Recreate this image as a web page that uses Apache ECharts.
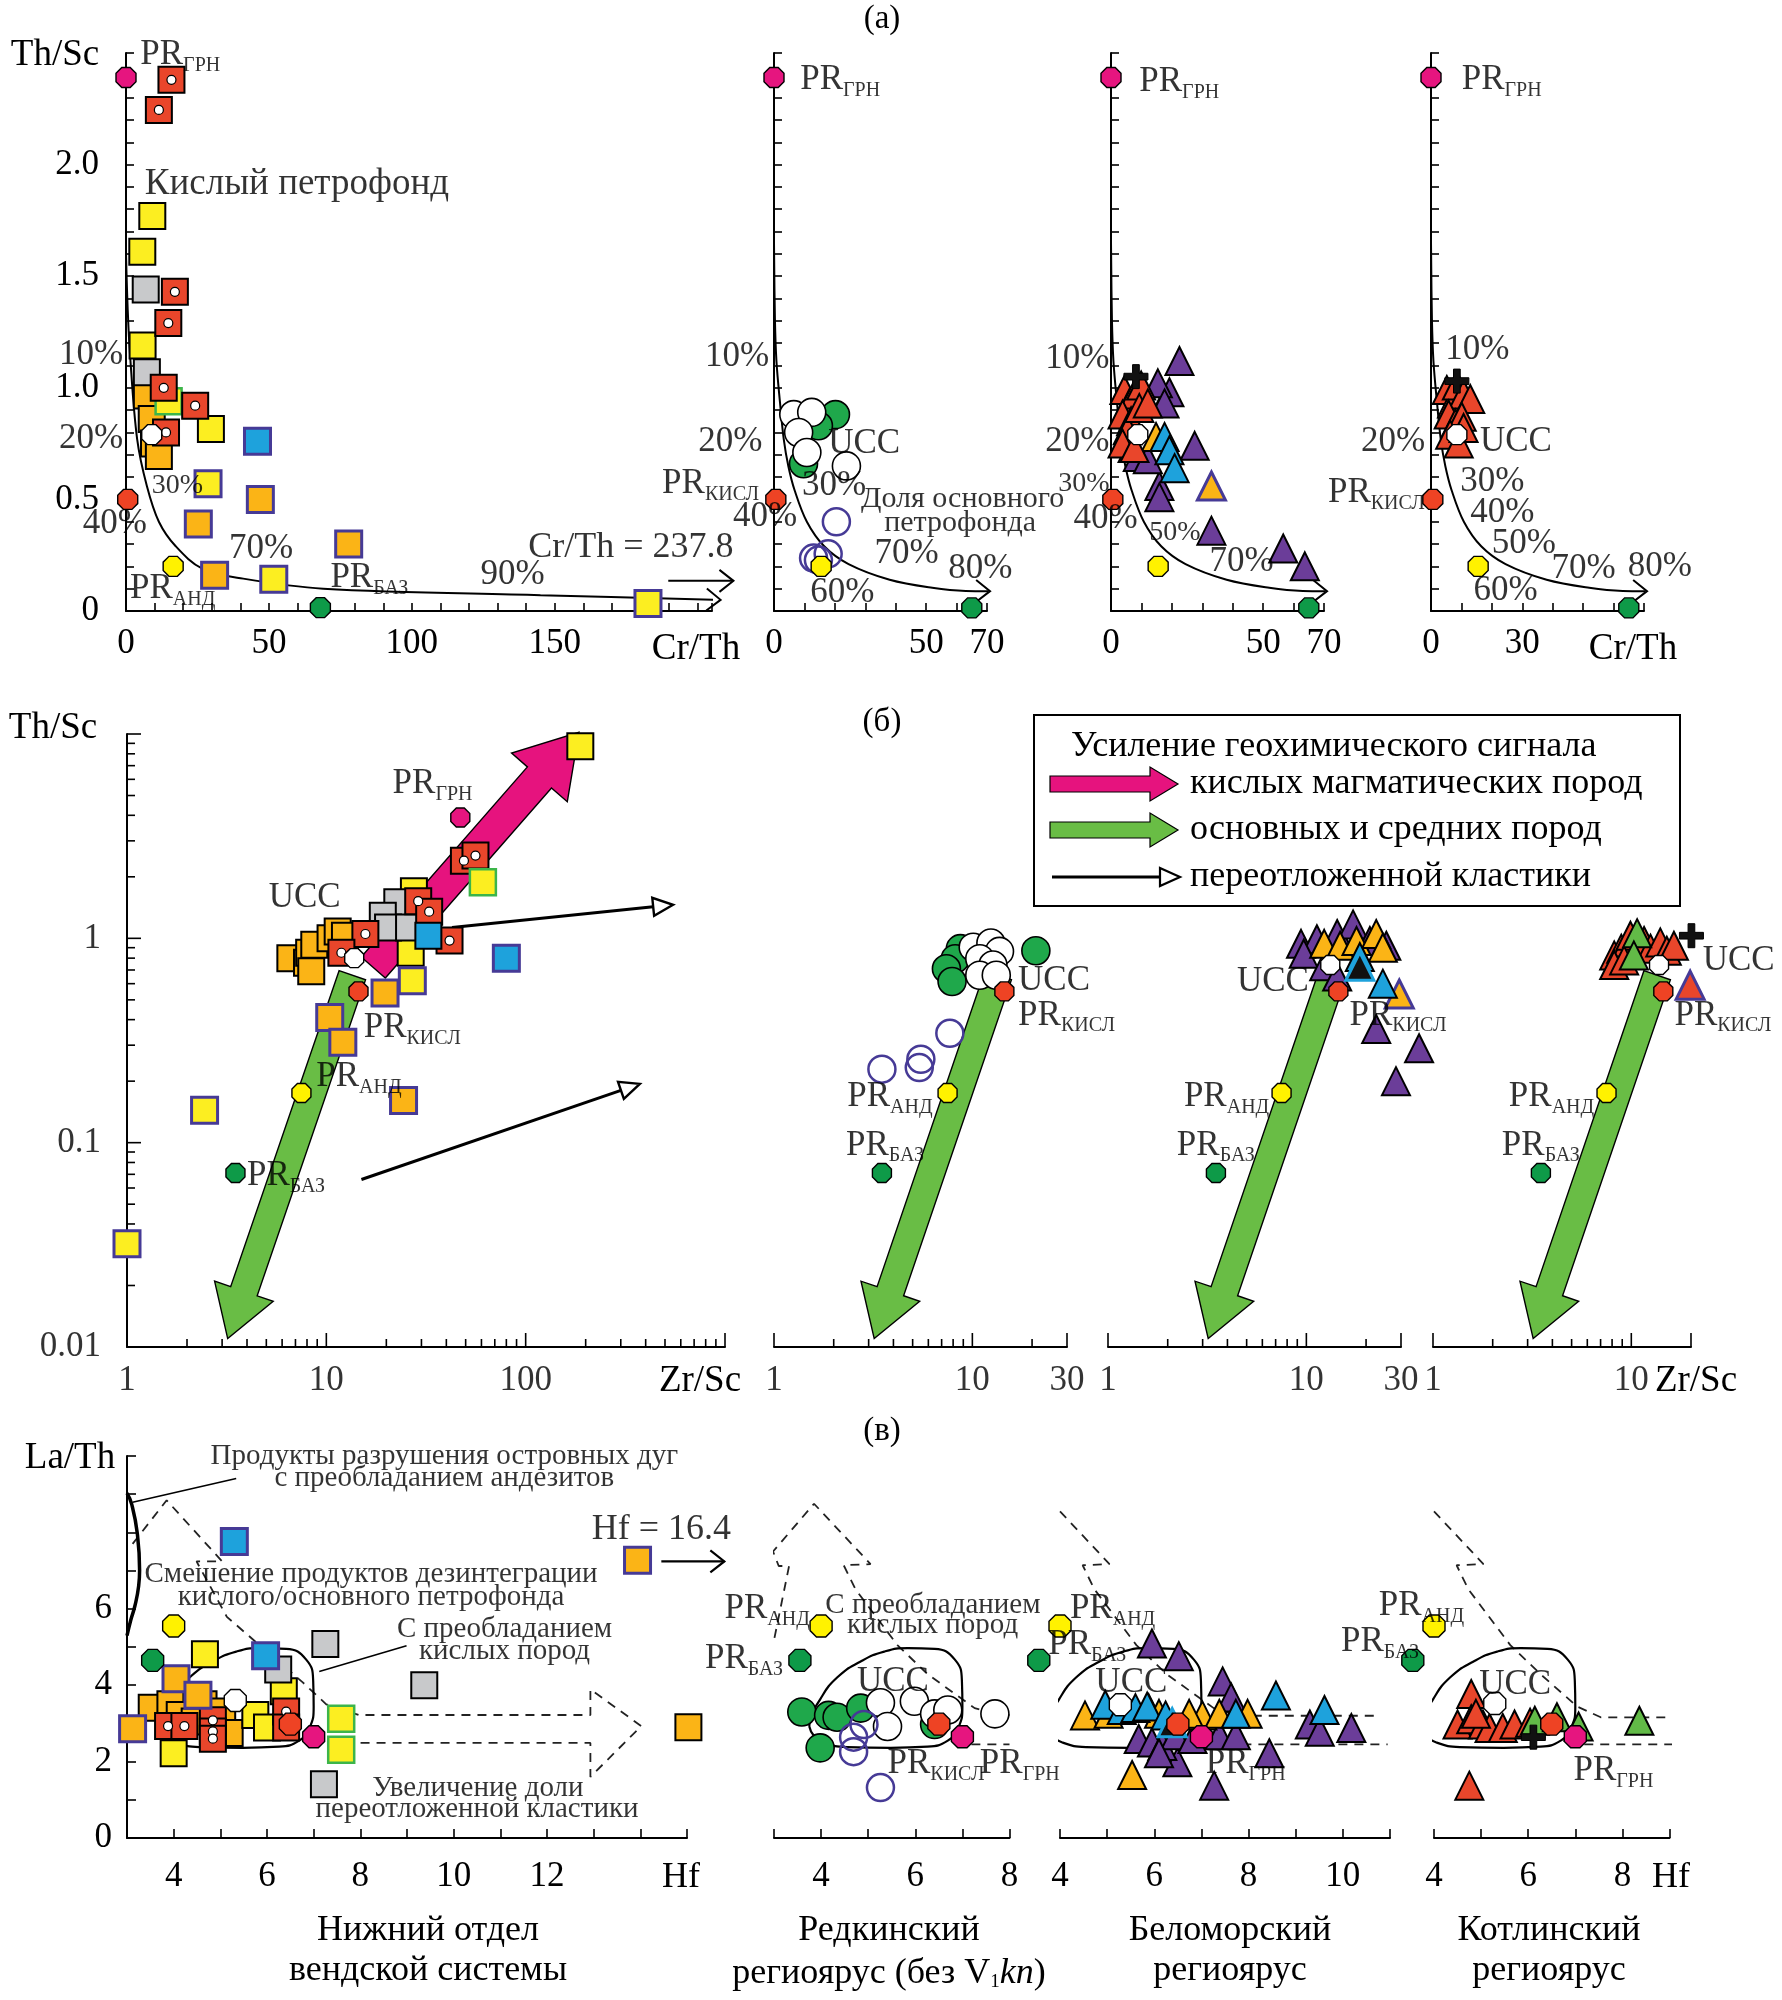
<!DOCTYPE html>
<html><head><meta charset="utf-8">
<script src="https://cdn.jsdelivr.net/npm/echarts@6/dist/echarts.min.js"></script>
<style>html,body{margin:0;padding:0;background:#fff}#c{width:1782px;height:2000px}</style>
</head><body><div id="c"></div>
<script>
const FONT = "'Liberation Serif','Times New Roman',serif";

// ================= DATA =================
// ---- Row (а): Cr/Th vs Th/Sc ----
const A_PR_GRN = [[0, 2.39]];
const A_PR_KISL = [[0.6, 0.5]];
const A_PR_AND = [[15.5, 0.2]];
const A_PR_BAZ = [[65, 0.014]];
const A1_PR_AND = [[16.5, 0.2]];
const A1_PR_BAZ = [[68, 0.015]];
const A1_UCC = [[9, 0.79]];
const A3_UCC = [[8.8, 0.79]];
const A4_UCC = [[8.5, 0.79]];
const A1_CURVE = [[0,1.6],[0.6,1.35],[1.4,1.15],[3.9,0.77],[7.3,0.56],[11.5,0.40],[17.4,0.29],[26.7,0.19],[41,0.145],[69,0.10],[145,0.071],[208,0.05]];
const A_CURVE = [[0,1.65],[0.3,1.31],[0.8,1.12],[2,0.93],[3.2,0.77],[4.7,0.65],[6.8,0.54],[10.8,0.40],[16.5,0.29],[24.5,0.21],[38,0.14],[52,0.104],[63,0.09],[71,0.089]];
const A1_RED = [[15.9,2.38],[11.5,2.245],[17.1,1.43],[14.8,1.29],[13.2,1.0],[24.2,0.92],[14,0.80]];
const A1_YELLOW = [[9.2,1.77],[5.7,1.61],[5.8,1.19],[29.7,0.815]];
const A1_YELLOW_P = [[28.7,0.57],[51.7,0.142],[182.6,0.034]];
const A1_YELLOW_G = [[14.9,0.94]];
const A1_GRAY = [[6.9,1.44],[7.3,1.07]];
const A1_ORANGE = [[7.3,0.966],[9,0.86],[9.8,0.75],[11.5,0.695]];
const A1_ORANGE_P = [[47,0.50],[25.3,0.39],[77.9,0.30],[31,0.16]];
const A1_BLUE_P = [[46,0.76]];
const A2_WHITE = [[6.5,0.88],[12.4,0.89],[8.1,0.80],[10.8,0.71],[23.8,0.65]];
const A2_GREEN = [[20.2,0.88],[14.6,0.83],[9.7,0.66]];
const A2_OPEN = [[20.5,0.40],[17.8,0.256],[14.6,0.228],[13,0.237]];
const A3_PURPLE = [[22.5,1.12],[19.2,0.98],[15.4,1.02],[17.6,0.93],[27.5,0.74],[15.9,0.56],[15.9,0.51],[33,0.36],[56.6,0.28],[63.7,0.20],[8.8,0.69],[12.1,0.68],[7.1,0.73]];
const A3_ORANGE = [[14.8,0.78]];
const A3_ORANGE_P = [[33,0.56]];
const A3_BLUE = [[17.6,0.78],[19.2,0.72],[20.9,0.64]];
const A3_RED = [[4.4,0.99],[6.0,0.93],[7.7,0.97],[9.9,1.01],[3.8,0.88],[6.6,0.85],[5.5,0.81],[9.3,0.91],[12.1,0.93],[3.8,0.75],[7.7,0.73]];
const A3_CROSS = [[8.2,1.05]];
const A4_RED = [[5.2,0.99],[6.9,0.93],[8.5,1.01],[10.7,0.97],[12.9,0.95],[5.8,0.88],[8,0.84],[10.1,0.87],[6.3,0.79],[9.1,0.75],[10.7,0.82]];
const A4_CROSS = [[8.5,1.03]];

// ---- Row (б): Zr/Sc vs Th/Sc (log) ----
const B1_PR_GRN = [[47, 3.9]];
const B_PR_KISL = [[14.5, 0.55]];
const B_PR_AND = [[7.5, 0.175]];
const B_PR_BAZ = [[3.5, 0.071]];
const B1_UCC = [[13.8, 0.80]];
const B1_YELLOW = [[188,8.7],[27.5,1.70],[26.5,0.85]];
const B1_YELLOW_P = [[27,0.62],[2.45,0.144],[1,0.032]];
const B1_YELLOW_G = [[61,1.88]];
const B1_GRAY = [[22.7,1.50],[19.2,1.29],[20.4,1.13],[26,1.13]];
const B1_RED = [[49,2.4],[56,2.54],[28.9,1.52],[32.8,1.35],[41.5,0.975],[15.7,1.05],[11.9,0.85]];
const B1_BLUE = [[32.5,1.03]];
const B1_BLUE_P = [[80,0.80]];
const B1_ORANGE = [[6.6,0.80],[8.0,0.76],[8.2,0.85],[8.7,0.93],[10.5,1.0],[11.4,1.08],[12.4,1.03],[8.4,0.69]];
const B1_ORANGE_P = [[19.7,0.54],[10.4,0.41],[12.1,0.31],[24.4,0.161]];
const B2_WHITE = [[10.1,0.905],[12.4,0.948],[13.7,0.863],[10.9,0.795],[12.7,0.74],[10.9,0.66],[13.2,0.66]];
const B2_GREEN = [[8.7,0.89],[8.2,0.795],[7.4,0.71],[7.9,0.615],[20.9,0.87]];
const B2_OPEN = [[7.7,0.343],[5.5,0.256],[5.4,0.233],[3.5,0.229]];
const B3_PURPLE = [[9.4,0.94],[11.3,0.99],[14.3,1.05],[17.2,1.17],[20.9,0.97],[25.3,0.92],[9.7,0.84],[12.3,0.73],[14.3,0.65],[22.5,0.36],[37,0.29],[28.3,0.20]];
const B3_ORANGE = [[12.3,0.94],[14.8,0.92],[17.9,0.97],[22.5,1.05],[24.3,0.90]];
const B3_ORANGE_P = [[29.4,0.534]];
const B3_BLUE = [[18.6,0.81],[24.3,0.60]];
const B3_BLACK = [[18.6,0.73]];
const B3_UCC = [[13.2,0.74]];
const B4_RED = [[8.2,0.825],[8.9,0.89],[9.6,0.955],[9.9,1.03],[11.6,0.97],[12.5,0.89],[14,0.955],[15.1,0.87],[16.4,0.92],[8.2,0.74],[9.2,0.78]];
const B4_GREEN = [[10.7,1.06],[10.3,0.825]];
const B4_CROSS = [[20.1,1.03]];
const B4_RED_P = [[19.8,0.59]];
const B4_UCC = [[13.8,0.74]];
const B_GREEN_ARROW = [13.5, 0.66, 3.2, 0.011];
const B1_PINK_ARROW = [17.2, 0.72, 185, 10.2];
const B1_THIN_ARROWS = [[42.7,1.13,549,1.46],[15,0.066,374,0.194]];

// ---- Row (в): Hf vs La/Th ----
const C_PR_AND = [[4.0, 5.55]];
const C_PR_BAZ = [[3.55, 4.65]];
const C_PR_GRN = [[7.0, 2.65]];
const C_PR_KISL = [[6.5, 2.98]];
const C1_UCC = [[5.32, 3.6]];
const C3_UCC = [[5.28, 3.49]];
const C4_UCC = [[5.29, 3.52]];
const C1_BLUE_P = [[5.30,7.76],[5.97,4.77]];
const C1_GRAY = [[7.25,5.08],[6.24,4.41],[9.37,4.0],[7.22,1.41]];
const C1_YELLOW = [[4.67,4.81],[6.36,3.84],[5.75,3.22],[6.0,2.89],[4.0,2.22]];
const C1_ORANGE_P = [[4.05,4.17],[4.52,3.74],[3.12,2.86],[13.94,7.27]];
const C1_ORANGE = [[3.53,3.41],[3.93,3.5],[4.64,3.5],[5.04,3.31],[4.13,3.22],[4.45,3.05],[5.2,2.75],[15.03,2.90]];
const C1_YELLOW_G = [[7.59,3.12],[7.59,2.31]];
const C1_RED = [[3.88,2.93],[4.23,2.93],[4.84,3.08],[4.84,2.79],[4.84,2.6],[6.41,3.31],[6.41,2.89]];
const C2_GREEN = [[3.59,3.30],[4.16,3.21],[4.34,3.16],[4.84,3.40],[3.98,2.36],[6.41,2.97]];
const C2_WHITE = [[5.26,3.54],[5.98,3.58],[5.41,2.92],[6.41,3.25],[6.69,3.35],[7.69,3.25]];
const C2_OPEN = [[4.91,2.97],[4.69,2.64],[4.69,2.26],[5.26,1.32]];
const C3_PURPLE = [[5.95,5.09],[6.52,4.76],[7.45,4.10],[7.63,3.68],[9.3,2.97],[9.51,2.78],[10.18,2.88],[8.44,2.22],[6.49,1.98],[7.27,1.37],[5.67,2.59],[5.95,2.5],[6.17,2.41],[6.45,2.69],[6.81,2.59],[7.38,2.69],[7.73,2.69],[6.1,2.22]];
const C3_ORANGE = [[4.53,3.21],[5.03,3.25],[5.88,3.4],[7.02,3.21],[7.38,3.25],[7.98,3.25],[5.53,1.65],[6.74,3.25],[6.1,3.25]];
const C3_BLUE = [[4.96,3.49],[5.31,3.35],[5.6,3.4],[5.85,3.44],[6.24,3.21],[7.73,3.25],[8.58,3.73],[9.61,3.35]];
const C3_BLACK = [[6.38,3.02]];
const C4_RED = [[4.79,3.77],[4.5,2.97],[4.79,3.11],[5.04,2.97],[5.18,2.88],[5.46,2.88],[5.71,2.97],[6.04,3.02],[4.75,1.37],[4.89,3.25]];
const C4_GREEN = [[6.14,3.07],[6.61,3.16],[7.07,2.92],[8.36,3.07]];
const C4_CROSS = [[6.11,2.64]];
// field outlines (annotation shapes)
const C_ELLIPSE = [[3.75,2.92],[3.76,3.05],[3.98,3.63],[4.34,4.2],[4.84,4.62],[5.34,4.88],[5.84,4.97],[6.41,4.95],[6.84,4.67],[6.99,4.10],[7.0,3.44],[6.91,2.88],[6.69,2.55],[6.26,2.39],[5.48,2.36],[4.55,2.38],[4.05,2.5],[3.84,2.69],[3.75,2.92]];
const C1_DASH_UP = [[3.12,7.7],[3.85,8.84],[5.04,7.24],[4.49,7.24],[5.14,5.79],[5.95,4.93],[6.76,4.08],[7.27,3.5],[7.97,3.22],[12.93,3.22],[12.93,3.89],[14.02,2.93],[12.93,1.6],[12.93,2.49],[7.2,2.49]];
const C2_DASH_UP = [[3.01,5.24],[3.32,7.12],[3.1,7.12],[2.98,7.5],[3.85,8.75],[5.05,7.17],[4.48,7.14],[4.73,6.51],[5.62,5.05],[6.26,4.29],[7.26,3.4],[7.8,3.22],[8.0,3.22]];
const C2_DASH_LOW = [[7.19,2.45],[8.0,2.45]];
const C3_DASH_UP = [[4.0,8.55],[5.05,7.17],[4.48,7.14],[4.73,6.51],[5.62,5.05],[6.26,4.29],[7.26,3.4],[7.8,3.2],[10.8,3.2]];
const C3_DASH_LOW = [[7.19,2.45],[10.95,2.45]];
const C4_DASH_UP = [[4.0,8.55],[5.05,7.17],[4.48,7.14],[4.73,6.51],[5.62,5.05],[6.26,4.29],[7.04,3.44],[7.54,3.16],[9.2,3.16]];
const C4_DASH_LOW = [[7.19,2.45],[9.36,2.45]];
const C1_LENS = [[3.0,5.3],[3.08,5.7],[3.17,6.08],[3.25,6.6],[3.27,7.0],[3.22,7.98],[3.1,8.74],[3.0,9.03]];
const C1_LEADER_ARC = [[3.12,8.79],[5.34,9.41]];
const C1_LEADER_ACID = [[7.12,4.36],[8.99,5.03]];

// ---- tick label sets ----
const A1_XLAB = [0,50,100,150], A2_XLAB = [0,50,70], A4_XLAB = [0,30];
const C1_XLAB = [4,6,8,10,12], C2_XLAB = [4,6,8], C3_XLAB = [4,6,8,10], C4_XLAB = [4,6,8], C1_YLAB = [0,2,4,6];

// ================= LAYOUT / STYLE =================
const COL = {red:'#e9462b', yellow:'#fcee21', orange:'#fbb416', gray:'#c8c9cb', blue:'#1ea2dc', green:'#1fa84b',
  lgreen:'#62ba47', purple:'#6b3d99', magenta:'#e6157f', pborder:'#463a96', hexRed:'#ee4324', hexYellow:'#fff200',
  hexGreen:'#0e9a48', pink:'#e6137e', garrow:'#69bd45'};
const OCT = 'path://M29,0L71,0L100,29L100,71L71,100L29,100L0,71L0,29Z';
const CROSS = 'path://M36,0L64,0L64,36L100,36L100,64L64,64L64,100L36,100L36,64L0,64L0,36L36,36Z';
const GRIDS = [
  [126,53,586,558],[774,53,213,558],[1111,53,213,558],[1431,53,213,558],
  [127,734,598,613],[774,734,293,613],[1108,734,293,613],[1433,734,258,613],
  [127,1456,560,382],[774,1456,235.5,382],[1060,1456,330,382],[1434,1456,235.5,382]
];
const FS = 35;      // main text size
const FSS = 29;     // small annotation size

const _ctx = document.createElement('canvas').getContext('2d');
function tw(t, fs){ _ctx.font = fs + 'px ' + FONT; return _ctx.measureText(t).width; }
const setFmt = arr => v => { const r = Math.round(v*1000)/1000; return arr.indexOf(r) >= 0 ? String(r) : ''; };
const AL = {show:true, lineStyle:{color:'#000', width:2}};
const TK = len => ({show:true, inside:true, length:len, lineStyle:{color:'#000', width:1.6}});
const LB = (fmt, margin) => ({show:true, formatter:fmt, fontFamily:FONT, fontSize:FS, color:'#000', margin});
const NOLB = {show:false};
const base = {splitLine:{show:false}, minorTick:{show:false}};

const aY = v => { const r = Math.round(v*10); if (r % 5 || r === 25) return ''; return r === 0 ? '0' : (r/10).toFixed(1); };
const xAxes = [
  {gridIndex:0,type:'value',min:0,max:205,interval:10,axisLine:AL,axisTick:TK(8),axisLabel:LB(setFmt(A1_XLAB),15),...base},
  {gridIndex:1,type:'value',min:0,max:70,interval:10,axisLine:AL,axisTick:TK(8),axisLabel:LB(setFmt(A2_XLAB),15),...base},
  {gridIndex:2,type:'value',min:0,max:70,interval:10,axisLine:AL,axisTick:TK(8),axisLabel:LB(setFmt(A2_XLAB),15),...base},
  {gridIndex:3,type:'value',min:0,max:70,interval:10,axisLine:AL,axisTick:TK(8),axisLabel:LB(setFmt(A4_XLAB),15),...base},
  {gridIndex:4,type:'log',logBase:10,min:1,max:1000,axisLine:AL,axisTick:{show:false},axisLabel:NOLB,...base},
  {gridIndex:5,type:'log',logBase:10,min:1,max:30,axisLine:AL,axisTick:{show:false},axisLabel:NOLB,...base},
  {gridIndex:6,type:'log',logBase:10,min:1,max:30,axisLine:AL,axisTick:{show:false},axisLabel:NOLB,...base},
  {gridIndex:7,type:'log',logBase:10,min:1,max:20,axisLine:AL,axisTick:{show:false},axisLabel:NOLB,...base},
  {gridIndex:8,type:'value',min:3,max:15,interval:1,axisLine:AL,axisTick:TK(9),axisLabel:LB(setFmt(C1_XLAB),21),...base},
  {gridIndex:9,type:'value',min:3,max:8,interval:1,axisLine:AL,axisTick:TK(9),axisLabel:LB(setFmt(C2_XLAB),21),...base},
  {gridIndex:10,type:'value',min:4,max:11,interval:1,axisLine:AL,axisTick:TK(9),axisLabel:LB(setFmt(C3_XLAB),21),...base},
  {gridIndex:11,type:'value',min:4,max:9,interval:1,axisLine:AL,axisTick:TK(9),axisLabel:LB(setFmt(C4_XLAB),21),...base}
];
const yAxes = [
  {gridIndex:0,type:'value',min:0,max:2.5,interval:0.1,axisLine:AL,axisTick:TK(8),axisLabel:LB(aY,27),...base},
  {gridIndex:1,type:'value',min:0,max:2.5,interval:0.1,axisLine:AL,axisTick:TK(8),axisLabel:NOLB,...base},
  {gridIndex:2,type:'value',min:0,max:2.5,interval:0.1,axisLine:AL,axisTick:TK(8),axisLabel:NOLB,...base},
  {gridIndex:3,type:'value',min:0,max:2.5,interval:0.1,axisLine:AL,axisTick:TK(8),axisLabel:NOLB,...base},
  {gridIndex:4,type:'log',logBase:10,min:0.01,max:10,axisLine:AL,axisTick:{show:false},axisLabel:NOLB,...base},
  {gridIndex:5,type:'log',logBase:10,min:0.01,max:10,show:false,...base},
  {gridIndex:6,type:'log',logBase:10,min:0.01,max:10,show:false,...base},
  {gridIndex:7,type:'log',logBase:10,min:0.01,max:10,show:false,...base},
  {gridIndex:8,type:'value',min:0,max:10,interval:1,axisLine:AL,axisTick:TK(9),axisLabel:LB(setFmt(C1_YLAB),15),...base},
  {gridIndex:9,type:'value',min:0,max:10,show:false,...base},
  {gridIndex:10,type:'value',min:0,max:10,show:false,...base},
  {gridIndex:11,type:'value',min:0,max:10,show:false,...base}
];

// ================= SERIES HELPERS =================
function mk(g, data, symbol, size, fill, border, bw, z){
  return {type:'scatter', xAxisIndex:g, yAxisIndex:g, data, symbol, symbolSize:size,
    itemStyle:{color:fill, borderColor:border, borderWidth:bw, opacity:1}, clip:false, silent:true, animation:false, z:z||4};
}
const sq = (g,d,f,b,bw) => mk(g,d,'rect',26,f,b||'#000',bw||2,4);
const sqP = (g,d,f) => mk(g,d,'rect',26,f,COL.pborder,3,4);
const tri = (g,d,f,b,bw) => mk(g,d,'triangle',28,f,b||'#000',bw||2,4);
const cir = (g,d,f,b,bw) => mk(g,d,'circle',28,f,b||'#000',bw||1.6,4);
const opn = (g,d) => mk(g,d,'circle',27,'rgba(255,255,255,0)',COL.pborder,2.5,4);
const dots = (g,d) => mk(g,d,'circle',9,'#fff','#000',1.2,5);
const hex = (g,d,f,size) => mk(g,d,OCT,size||20,f,'#000',1.4,6);
const crs = (g,d) => mk(g,d,CROSS,24,'#111','#000',1,6);
function prSet(g, o, size){
  const s = [];
  if (o.grn) s.push(hex(g,o.grn,COL.magenta,size));
  if (o.kisl) s.push(hex(g,o.kisl,COL.hexRed,size));
  if (o.and) s.push(hex(g,o.and,COL.hexYellow,size));
  if (o.baz) s.push(hex(g,o.baz,COL.hexGreen,size));
  if (o.ucc) s.push(hex(g,o.ucc,'#fff',size));
  return s;
}
function line(g, data, opt){
  opt = opt || {};
  return {type:'line', xAxisIndex:g, yAxisIndex:g, data, symbol:'none', showSymbol:false, smooth:opt.smooth||0,
    lineStyle:{color:opt.color||'#000', width:opt.width||2, type:opt.dash?[9,7]:'solid'}, clip:!!opt.clip, silent:true, animation:false, z:opt.z||2};
}
function arrowGeom(p1, p2, kind, s){
  const dx=p2[0]-p1[0], dy=p2[1]-p1[1], L=Math.hypot(dx,dy)||1, ux=dx/L, uy=dy/L, nx=-uy, ny=ux;
  const P=(t,n)=>[p2[0]-ux*t+nx*n, p2[1]-uy*t+ny*n];
  if (kind==='fat'){
    const w=s.w/2, hw=s.hw/2, hl=s.hl;
    return {type:'polygon', shape:{points:[P(L,w),P(hl,w),P(hl,hw),P(0,0),P(hl,-hw),P(hl,-w),P(L,-w)]},
      style:{fill:s.fill, stroke:'#000', lineWidth:1.4, lineJoin:'miter'}};
  }
  if (kind==='open'){
    const b=P(s.hl,0);
    return {type:'group', children:[
      {type:'line', shape:{x1:p1[0],y1:p1[1],x2:b[0],y2:b[1]}, style:{stroke:'#000',lineWidth:s.lw||3}},
      {type:'polygon', shape:{points:[P(0,0),P(s.hl,s.hw/2),P(s.hl,-s.hw/2)]}, style:{fill:'#fff',stroke:'#000',lineWidth:2.4}}]};
  }
  const head = {type:'polyline', shape:{points:[P(s.hl,s.hw/2),P(0,0),P(s.hl,-s.hw/2)]}, style:{stroke:'#000',lineWidth:s.lw||2,fill:null}};
  if (kind==='head') return head;
  return {type:'group', children:[
    {type:'line', shape:{x1:p1[0],y1:p1[1],x2:p2[0],y2:p2[1]}, style:{stroke:'#000',lineWidth:s.lw||2}}, head]};
}
function arrow(g, seg, kind, s){
  return {type:'custom', xAxisIndex:g, yAxisIndex:g, clip:false, silent:true, animation:false, z:s.z||3, data:[seg],
    renderItem:(params, api)=>arrowGeom(api.coord([api.value(0),api.value(1)]), api.coord([api.value(2),api.value(3)]), kind, s)};
}
function ticks(g, axis, vals, other, len){
  return {type:'custom', xAxisIndex:g, yAxisIndex:g, clip:false, silent:true, animation:false, z:3,
    data: vals.map(v => axis==='x' ? [v, other] : [other, v]),
    renderItem:(params, api)=>{ const c=api.coord([api.value(0),api.value(1)]);
      return {type:'line', shape: axis==='x' ? {x1:c[0],y1:c[1],x2:c[0],y2:c[1]-len} : {x1:c[0],y1:c[1],x2:c[0]+len,y2:c[1]},
        style:{stroke:'#000', lineWidth:1.6}}; }};
}
// labels: [x, y, text, align, fontSize, dx, dy]; '_' marks a subscript
function labels(g, list){
  const data = [];
  for (const it of list){
    const [x,y,text,align,fsz,dx,dy] = it; const fs = fsz||FS, ox = dx||0, oy = dy||0;
    const parts = text.split('_');
    if (parts.length === 1){
      data.push({value:[x,y], label:{formatter:text, fontSize:fs, align:align||'left', offset:[ox,oy]}});
    } else {
      const fs2 = Math.round(fs*0.56), wm = tw(parts[0],fs), ws = tw(parts[1],fs2), tot = wm+ws;
      const left = align==='right' ? -tot : (align==='center' ? -tot/2 : 0);
      data.push({value:[x,y], label:{formatter:parts[0], fontSize:fs, align:'left', offset:[left+ox,oy]}});
      data.push({value:[x,y], label:{formatter:parts[1], fontSize:fs2, align:'left', offset:[left+wm+ox,oy+fs*0.31]}});
    }
  }
  return {type:'scatter', xAxisIndex:g, yAxisIndex:g, symbolSize:0.1, itemStyle:{color:'rgba(0,0,0,0)'}, clip:false, silent:true, animation:false, z:10,
    data, label:{show:true, position:'inside', verticalAlign:'middle', fontFamily:FONT, color:'#000'}};
}

// ================= ANNOTATION TEXTS =================
const A1_TXT = [[5,2.49,'PR_ГРН'],[6.6,1.91,'Кислый петрофонд','left',37],[-1,1.15,'10%','right'],[-1,0.77,'20%','right'],
  [9,0.56,'30%','left',28],[7.3,0.39,'40%','right'],[36,0.28,'70%'],[124,0.16,'90%'],[1.4,0.10,'PR_АНД'],[71.5,0.15,'PR_БАЗ'],[140.7,0.285,'Cr/Th = 237.8','left',36]];
const A2_TXT = [[8.6,2.38,'PR_ГРН'],[-1.6,1.14,'10%','right'],[-3.8,0.757,'20%','right'],[17.8,0.748,'UCC'],[-4.9,0.57,'PR_КИСЛ','right'],
  [9.2,0.56,'30%'],[28.6,0.50,'Доля основного','left',30],[36.2,0.395,'петрофонда','left',30],[7.6,0.42,'40%','right'],[33,0.256,'70%'],[57.3,0.19,'80%'],[11.9,0.08,'60%']];
const A3_TXT = [[9.3,2.37,'PR_ГРН'],[-0.5,1.13,'10%','right'],[-0.5,0.757,'20%','right'],[-0.5,0.57,'30%','right',28],[8.8,0.414,'40%','right'],[12.6,0.35,'50%','left',28],[32.4,0.22,'70%']];
const A4_TXT = [[10.1,2.38,'PR_ГРН'],[4.7,1.17,'10%'],[16.1,0.757,'UCC'],[-1.9,0.757,'20%','right'],[-2,0.53,'PR_КИСЛ','right'],[9.6,0.58,'30%'],[12.9,0.44,'40%'],[20,0.30,'50%'],[39.6,0.19,'70%'],[64.7,0.20,'80%'],[14,0.09,'60%']];
const B1_TXT = [[21.5,5.7,'PR_ГРН'],[5.14,1.57,'UCC'],[15.4,0.365,'PR_КИСЛ'],[8.9,0.21,'PR_АНД'],[4.0,0.069,'PR_БАЗ'],
  [1,1,'1','right',FS,-26],[1,0.1,'0.1','right',FS,-26],[1,0.01,'0.01','right',FS,-26],
  [1,0.01,'1','center',FS,0,34],[10,0.01,'10','center',FS,0,34],[100,0.01,'100','center',FS,0,34]];
const B2_TXT = [[17,0.62,'UCC'],[17,0.42,'PR_КИСЛ'],[6.3,0.167,'PR_АНД','right'],[5.7,0.097,'PR_БАЗ','right'],
  [1,0.01,'1','center',FS,0,34],[10,0.01,'10','center',FS,0,34],[30,0.01,'30','center',FS,0,34]];
const B3_TXT = [[10.3,0.61,'UCC','right'],[16.5,0.42,'PR_КИСЛ'],[6.5,0.167,'PR_АНД','right'],[5.5,0.097,'PR_БАЗ','right'],
  [1,0.01,'1','center',FS,0,34],[10,0.01,'10','center',FS,0,34],[30,0.01,'30','center',FS,0,34]];
const B4_TXT = [[22.9,0.78,'UCC'],[16.5,0.42,'PR_КИСЛ'],[6.5,0.167,'PR_АНД','right'],[5.5,0.097,'PR_БАЗ','right'],
  [1,0.01,'1','center',FS,0,34],[10,0.01,'10','center',FS,0,34]];
const C1_TXT = [[9.8,9.98,'Продукты разрушения островных дуг','center',FSS],[9.8,9.41,'с преобладанием андезитов','center',FSS],
  [8.23,6.89,'Смешение продуктов дезинтеграции','center',FSS],[8.23,6.31,'кислого/основного петрофонда','center',FSS],
  [11.09,5.46,'С преобладанием','center',FSS],[11.09,4.89,'кислых пород','center',FSS],
  [10.52,1.31,'Увеличение доли','center',FSS],[10.5,0.74,'переотложенной кластики','center',FSS],[14.45,8.08,'Hf = 16.4','center',36]];
const C2_TXT = [[3.76,5.99,'PR_АНД','right'],[3.19,4.7,'PR_БАЗ','right'],[4.09,6.1,'С преобладанием','left',FSS],[4.55,5.57,'кислых пород','left',FSS],
  [4.76,4.1,'UCC'],[5.41,1.93,'PR_КИСЛ'],[7.37,1.93,'PR_ГРН']];
const C3_TXT = [[4.21,5.99,'PR_АНД'],[3.75,5.05,'PR_БАЗ'],[4.75,4.06,'UCC'],[7.09,1.93,'PR_ГРН']];
const C4_TXT = [[4.64,6.08,'PR_АНД','right'],[3.68,5.14,'PR_БАЗ','right'],[4.96,4.0,'UCC'],[6.96,1.75,'PR_ГРН']];

// ================= BUILD SERIES =================
const S = [];
const CH = {hl:14, hw:22, lw:2};
// a1
S.push(line(0, A1_CURVE, {smooth:0.35}), arrow(0, [...A1_CURVE[A1_CURVE.length-2], ...A1_CURVE[A1_CURVE.length-1]], 'head', CH));
S.push(arrow(0, [189.7,0.135,212.5,0.135], 'chevron', CH));
S.push(sq(0,A1_ORANGE,COL.orange), sq(0,A1_YELLOW,COL.yellow), sq(0,A1_GRAY,COL.gray), sq(0,A1_YELLOW_G,COL.yellow,'#3cb54a',2.5),
  sq(0,A1_RED,COL.red), dots(0,A1_RED), sqP(0,A1_BLUE_P,COL.blue), sqP(0,A1_YELLOW_P,COL.yellow), sqP(0,A1_ORANGE_P,COL.orange));
S.push(...prSet(0,{grn:A_PR_GRN,kisl:A_PR_KISL,and:A1_PR_AND,baz:A1_PR_BAZ,ucc:A1_UCC}));
S.push(labels(0, A1_TXT));
// a2
S.push(line(1, A_CURVE, {smooth:0.35}), arrow(1, [...A_CURVE[A_CURVE.length-2], ...A_CURVE[A_CURVE.length-1]], 'head', CH));
S.push(cir(1,A2_GREEN,COL.green), cir(1,A2_WHITE,'#fff'), opn(1,A2_OPEN));
S.push(...prSet(1,{grn:A_PR_GRN,kisl:A_PR_KISL,and:A_PR_AND,baz:A_PR_BAZ}));
S.push(labels(1, A2_TXT));
// a3
S.push(line(2, A_CURVE, {smooth:0.35}), arrow(2, [...A_CURVE[A_CURVE.length-2], ...A_CURVE[A_CURVE.length-1]], 'head', CH));
S.push(tri(2,A3_PURPLE,COL.purple), tri(2,A3_ORANGE,COL.orange), tri(2,A3_ORANGE_P,COL.orange,COL.pborder,3), tri(2,A3_BLUE,COL.blue), tri(2,A3_RED,COL.red), crs(2,A3_CROSS));
S.push(...prSet(2,{grn:A_PR_GRN,kisl:A_PR_KISL,and:A_PR_AND,baz:A_PR_BAZ,ucc:A3_UCC}));
S.push(labels(2, A3_TXT));
// a4
S.push(line(3, A_CURVE, {smooth:0.35}), arrow(3, [...A_CURVE[A_CURVE.length-2], ...A_CURVE[A_CURVE.length-1]], 'head', CH));
S.push(tri(3,A4_RED,COL.red), crs(3,A4_CROSS));
S.push(...prSet(3,{grn:A_PR_GRN,kisl:A_PR_KISL,and:A_PR_AND,baz:A_PR_BAZ,ucc:A4_UCC}));
S.push(labels(3, A4_TXT));
// b ticks
const MIN1 = [2,3,4,5,6,7,8,9], MIN10 = [20,30,40,50,60,70,80,90], MIN100 = [200,300,400,500,600,700,800,900];
const YMIN = [0.02,0.03,0.04,0.05,0.06,0.07,0.08,0.09,0.2,0.3,0.4,0.5,0.6,0.7,0.8,0.9,2,3,4,5,6,7,8,9];
S.push(ticks(4,'y',YMIN,1,8), ticks(4,'y',[0.01,0.1,1,10],1,14), ticks(4,'x',[...MIN1,...MIN10,...MIN100],0.01,8), ticks(4,'x',[1,10,100,1000],0.01,14));
for (const g of [5,6]) S.push(ticks(g,'x',[...MIN1,20],0.01,8), ticks(g,'x',[1,10,30],0.01,14));
S.push(ticks(7,'x',MIN1,0.01,8), ticks(7,'x',[1,10,20],0.01,14));
// b arrows
const GA = {w:28, hw:62, hl:50, fill:COL.garrow, z:2};
for (const g of [4,5,6,7]) S.push(arrow(g, B_GREEN_ARROW, 'fat', GA));
S.push(arrow(4, B1_PINK_ARROW, 'fat', {w:32, hw:74, hl:60, fill:COL.pink, z:2}));
for (const seg of B1_THIN_ARROWS) S.push(arrow(4, seg, 'open', {hl:20, hw:18, lw:3}));
// b1
S.push(sq(4,B1_ORANGE,COL.orange), sq(4,B1_YELLOW,COL.yellow), sq(4,B1_GRAY,COL.gray), sq(4,B1_RED,COL.red), dots(4,B1_RED),
  sq(4,B1_BLUE,COL.blue), sq(4,B1_YELLOW_G,COL.yellow,'#3cb54a',2.5), sqP(4,B1_BLUE_P,COL.blue), sqP(4,B1_YELLOW_P,COL.yellow), sqP(4,B1_ORANGE_P,COL.orange));
S.push(...prSet(4,{grn:B1_PR_GRN,kisl:B_PR_KISL,and:B_PR_AND,baz:B_PR_BAZ,ucc:B1_UCC},19));
S.push(labels(4, B1_TXT));
// b2
S.push(cir(5,B2_GREEN,COL.green), cir(5,B2_WHITE,'#fff'), opn(5,B2_OPEN));
S.push(...prSet(5,{kisl:B_PR_KISL,and:B_PR_AND,baz:B_PR_BAZ},19));
S.push(labels(5, B2_TXT));
// b3
S.push(tri(6,B3_PURPLE,COL.purple), tri(6,B3_ORANGE,COL.orange), tri(6,B3_ORANGE_P,COL.orange,COL.pborder,3), tri(6,B3_BLUE,COL.blue), tri(6,B3_BLACK,'#111',COL.blue,3));
S.push(...prSet(6,{kisl:B_PR_KISL,and:B_PR_AND,baz:B_PR_BAZ,ucc:B3_UCC},19));
S.push(labels(6, B3_TXT));
// b4
S.push(tri(7,B4_RED,COL.red), tri(7,B4_GREEN,COL.lgreen), tri(7,B4_RED_P,COL.red,COL.pborder,3), crs(7,B4_CROSS));
S.push(...prSet(7,{kisl:B_PR_KISL,and:B_PR_AND,baz:B_PR_BAZ,ucc:B4_UCC},19));
S.push(labels(7, B4_TXT));
// c1
S.push(line(8, C1_DASH_UP, {dash:true, width:1.8, color:'#222'}), line(8, C_ELLIPSE, {smooth:0.5, width:2.2}),
  line(8, C1_LENS, {smooth:0.5, width:3.5}), line(8, C1_LEADER_ARC, {width:1.6}), line(8, C1_LEADER_ACID, {width:1.6}));
S.push(arrow(8, [14.45,7.24,15.8,7.24], 'chevron', {hl:14, hw:22, lw:2.2}));
S.push(sq(8,C1_ORANGE,COL.orange), sq(8,C1_YELLOW,COL.yellow), sq(8,C1_RED,COL.red), dots(8,C1_RED), sq(8,C1_GRAY,COL.gray),
  sqP(8,C1_BLUE_P,COL.blue), sqP(8,C1_ORANGE_P,COL.orange), sq(8,C1_YELLOW_G,COL.yellow,'#3cb54a',2.5));
S.push(...prSet(8,{grn:C_PR_GRN,kisl:C_PR_KISL,and:C_PR_AND,baz:C_PR_BAZ,ucc:C1_UCC},22));
S.push(labels(8, C1_TXT));
// c2
S.push(line(9, C2_DASH_UP, {dash:true, width:1.8, color:'#222', clip:true}), line(9, C2_DASH_LOW, {dash:true, width:1.8, color:'#222', clip:true}), line(9, C_ELLIPSE, {smooth:0.5, width:2.2}));
S.push(cir(9,C2_GREEN,COL.green), cir(9,C2_WHITE,'#fff'), opn(9,C2_OPEN));
S.push(...prSet(9,{grn:C_PR_GRN,kisl:C_PR_KISL,and:C_PR_AND,baz:C_PR_BAZ},22));
S.push(labels(9, C2_TXT));
// c3
S.push(line(10, C3_DASH_UP, {dash:true, width:1.8, color:'#222'}), line(10, C3_DASH_LOW, {dash:true, width:1.8, color:'#222'}), line(10, C_ELLIPSE, {smooth:0.5, width:2.2}));
S.push(tri(10,C3_PURPLE,COL.purple), tri(10,C3_ORANGE,COL.orange), tri(10,C3_BLUE,COL.blue), tri(10,C3_BLACK,'#111',COL.blue,3));
S.push(...prSet(10,{grn:C_PR_GRN,kisl:C_PR_KISL,and:C_PR_AND,baz:C_PR_BAZ,ucc:C3_UCC},22));
S.push(labels(10, C3_TXT));
// c4
S.push(line(11, C4_DASH_UP, {dash:true, width:1.8, color:'#222'}), line(11, C4_DASH_LOW, {dash:true, width:1.8, color:'#222'}), line(11, C_ELLIPSE, {smooth:0.5, width:2.2}));
S.push(tri(11,C4_RED,COL.red), hex(11,C_PR_KISL,COL.hexRed,22), tri(11,C4_GREEN,COL.lgreen), crs(11,C4_CROSS));
S.push(...prSet(11,{grn:C_PR_GRN,and:C_PR_AND,baz:C_PR_BAZ,ucc:C4_UCC},22));
S.push(labels(11, C4_TXT));

// ================= GRAPHIC (titles, axis names, legend) =================
function gt(x, y, text, fs, align, extra){
  return Object.assign({type:'text', x, y, silent:true, style:Object.assign({text, font:fs+'px '+FONT, fill:'#000',
    align:align||'center', verticalAlign:'middle', textAlign:align||'center', textVerticalAlign:'middle'}, extra||{})});
}
function fatPix(x1, x2, y, w, hw, hl, fill){
  const pts = [[x1,y-w/2],[x2-hl,y-w/2],[x2-hl,y-hw/2],[x2,y],[x2-hl,y+hw/2],[x2-hl,y+w/2],[x1,y+w/2]];
  return {type:'polygon', shape:{points:pts}, style:{fill, stroke:'#000', lineWidth:1.2}, silent:true};
}
const LF = 36;
const G = [
  gt(882,19,'(а)',33), gt(55,55,'Th/Sc',37), gt(696,649,'Cr/Th',37), gt(1633,649,'Cr/Th',37),
  gt(882,722,'(б)',33), gt(53,728,'Th/Sc',37), gt(700,1381,'Zr/Sc',37), gt(1696,1381,'Zr/Sc',37),
  gt(882,1431,'(в)',33), gt(70,1458,'La/Th',37), gt(681,1878,'Hf',36), gt(1671,1878,'Hf',36),
  gt(428,1931,'Нижний отдел',LF), gt(428,1971,'вендской системы',LF),
  gt(889,1931,'Редкинский',LF),
  {type:'text', x:889, y:1971, silent:true, style:{text:'{n|региоярус (без V}{s|1}{i|kn}{n|)}', align:'center', verticalAlign:'middle', textAlign:'center', textVerticalAlign:'middle',
    rich:{n:{fontFamily:FONT, fontSize:LF, fill:'#000', verticalAlign:'bottom', lineHeight:42}, s:{fontFamily:FONT, fontSize:19, fill:'#000', verticalAlign:'bottom', lineHeight:35},
    i:{fontFamily:FONT, fontSize:LF, fontStyle:'italic', fill:'#000', verticalAlign:'bottom', lineHeight:42}}}},
  gt(1230,1931,'Беломорский',LF), gt(1230,1971,'региоярус',LF),
  gt(1549,1931,'Котлинский',LF), gt(1549,1971,'региоярус',LF),
  {type:'rect', shape:{x:1034, y:715, width:646, height:191}, style:{fill:'#fff', stroke:'#000', lineWidth:2}, silent:true, z:20},
  Object.assign(gt(1071,747,'Усиление геохимического сигнала',LF,'left'), {z:21}),
  Object.assign(fatPix(1050,1178,784,16,34,28,COL.pink), {z:21}),
  Object.assign(gt(1190,784,'кислых магматических пород',LF,'left'), {z:21}),
  Object.assign(fatPix(1050,1178,830,16,34,28,COL.garrow), {z:21}),
  Object.assign(gt(1190,830,'основных и средних пород',LF,'left'), {z:21}),
  {type:'line', shape:{x1:1052, y1:877, x2:1160, y2:877}, style:{stroke:'#000', lineWidth:3}, silent:true, z:21},
  {type:'polygon', shape:{points:[[1160,868],[1180,877],[1160,886]]}, style:{fill:'#fff', stroke:'#000', lineWidth:2.2}, silent:true, z:21},
  Object.assign(gt(1190,877,'переотложенной кластики',LF,'left'), {z:21})
];

const chart = echarts.init(document.getElementById('c'), null, {renderer:'canvas', width:1782, height:2000});
chart.setOption({
  animation:false, backgroundColor:'#fff', textStyle:{fontFamily:FONT},
  grid: GRIDS.map(g => ({left:g[0], top:g[1], width:g[2], height:g[3], containLabel:false})),
  xAxis: xAxes, yAxis: yAxes, series: S, graphic: {elements: G}
});
</script></body></html>
